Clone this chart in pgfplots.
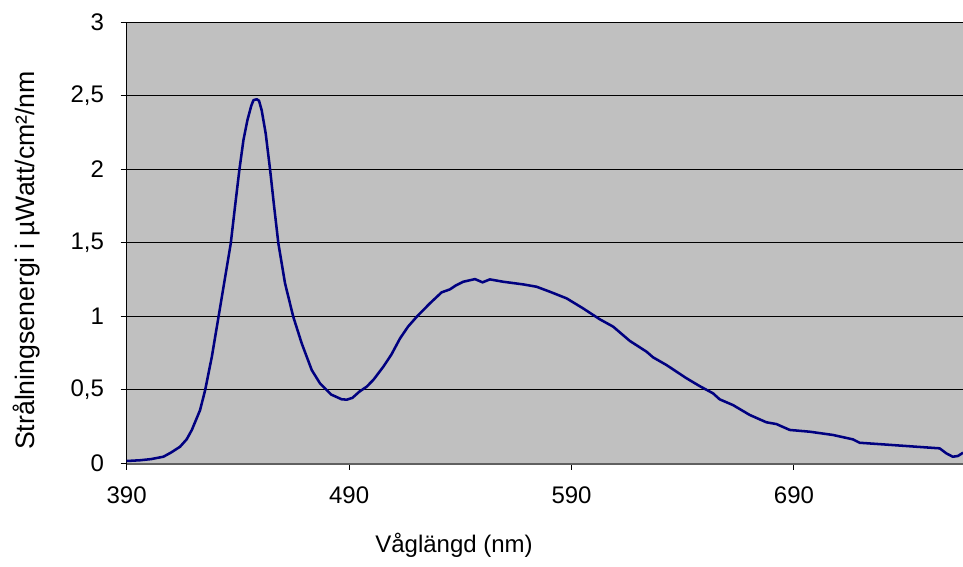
\documentclass[border=0pt]{standalone}
\usepackage{fontspec}
\setmainfont{Liberation Sans}
\usepackage{pgfplots}
\pgfplotsset{compat=1.18}
\definecolor{plotGray}{HTML}{C0C0C0}
\definecolor{lineNavy}{HTML}{000080}
\definecolor{axisGray}{HTML}{606060}

\begin{document}
\begin{tikzpicture}
\useasboundingbox (-95pt,-77.6pt) rectangle (627.2pt,347.6pt);
\begin{axis}[
  at={(0,0)}, anchor=south west, scale only axis,
  width=627.2pt, height=331.1pt,
  xmin=390, xmax=766, ymin=0, ymax=3,
  xtick={390,490,590,690}, ytick={0,0.5,...,3},
  axis x line*=bottom, axis y line*=left,
  x axis line style={axisGray, line width=1.5pt},
  y axis line style={black, line width=0.75pt},
  tick align=outside, major tick length=4.5pt,
  tick style={black, line width=0.75pt},
  ymajorgrids, grid style={black, line width=0.75pt},
  axis background/.style={fill=plotGray},
  tick label style={font=\fontsize{18}{20}\selectfont},
  xticklabel style={yshift=-9.5pt},
  yticklabel style={xshift=-9pt},
  /pgf/number format/use comma,
  /pgf/number format/assume math mode=true,
  xlabel={Våglängd (nm)}, ylabel={Strålningsenergi i µWatt/cm²/nm},
  label style={font=\fontsize{18}{20}\selectfont},
  xlabel style={at={(rel axis cs:0.3914,0)}, anchor=base, yshift=-67pt},
  ylabel style={font=\fontsize{20}{22}\selectfont, at={(rel axis cs:0,0.46)}, anchor=center, yshift=75.2pt},
]
\addplot[lineNavy, line width=1.9pt, line join=round] coordinates {
(390,0.017) (396,0.022) (401,0.030) (406.5,0.046) (410,0.075) (414,0.114)
(417,0.165) (419.3,0.228) (423,0.363) (425.3,0.50) (428.3,0.726) (431.3,0.997)
(434.3,1.269) (436.8,1.496) (438.7,1.745) (440.7,1.999) (442.5,2.198) (444.3,2.334)
(446,2.43) (447,2.469) (448.5,2.475) (449.5,2.465) (450.7,2.40) (452.5,2.243)
(454.5,1.994) (456.3,1.745) (458.2,1.496) (461.2,1.224) (464.9,0.997) (468.7,0.816)
(473.2,0.635) (476.9,0.545) (482,0.468) (486.7,0.436) (489,0.434) (491.5,0.446)
(494.6,0.488) (497.9,0.522) (501,0.57) (505.4,0.658) (509,0.74) (512.9,0.85)
(516.5,0.93) (520.4,0.997) (526.3,1.088) (531.6,1.163) (535.3,1.183) (538,1.21)
(541.3,1.235) (546.6,1.253) (550,1.231) (553.3,1.251) (559.3,1.235) (568.3,1.217)
(574.3,1.201) (580.3,1.167) (587.8,1.122) (595.2,1.054) (602.7,0.98) (608.7,0.93)
(616.2,0.833) (623.7,0.76) (626.7,0.721) (632.7,0.669) (641.7,0.579) (647.6,0.526)
(653.6,0.477) (656.6,0.436) (662.6,0.397) (670.1,0.33) (677.6,0.28) (682.1,0.268)
(688.1,0.228) (697.1,0.216) (707.5,0.194) (716.5,0.164) (719.5,0.141) (730,0.13)
(745,0.114) (755.5,0.103) (758.5,0.069) (761.4,0.046) (763.7,0.051) (766,0.073)
};
\end{axis}
\end{tikzpicture}
\end{document}
